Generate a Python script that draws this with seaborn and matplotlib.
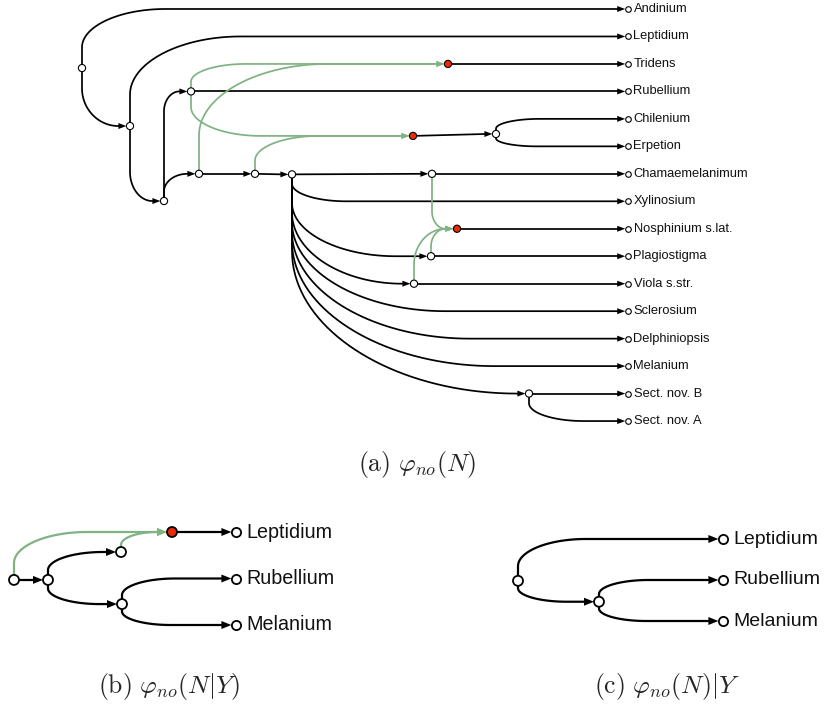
import numpy as np
import matplotlib
matplotlib.use("Agg")
import matplotlib.pyplot as plt
import seaborn as sns
import pandas as pd

sns.set_theme(style="white")
plt.rcParams['font.family'] = ['Liberation Sans', 'DejaVu Sans']
plt.rcParams['mathtext.fontset'] = 'cm'

BLACK = "#000000"
GREEN = "#80b283"
RED = "#f0280a"

# ---------------- panel (a) ----------------
leaves_a = ["Andinium", "Leptidium", "Tridens", "Rubellium", "Chilenium", "Erpetion",
            "Chamaemelanimum", "Xylinosium", "Nosphinium s.lat.", "Plagiostigma",
            "Viola s.str.", "Sclerosium", "Delphiniopsis", "Melanium",
            "Sect. nov. B", "Sect. nov. A"]
leaf_rows_a = list(range(16))
leaf_x_a = 628
inner_a = ["root", "n2", "n3", "n4", "n5", "n6", "n7", "n8", "hT", "hC", "sCE", "hN", "nP", "nV", "sS"]
inner_x_a = [82, 130, 164, 191, 199, 255, 292, 432, 448, 413, 496, 457, 431, 414, 529]
inner_row_a = [2.15, 4.26, 6.99, 3.0, 6.0, 6.0, 6.02, 6.0, 2.0, 4.62, 4.55, 8.0, 9.0, 10.0, 14.0]
hybrid_a = ["hT", "hC", "hN"]
tree_edges_a = [("root", "Andinium"), ("root", "n2"), ("n2", "Leptidium"), ("n2", "n3"),
                ("n3", "n4"), ("n3", "n5"), ("n4", "Rubellium"), ("hT", "Tridens"),
                ("hC", "sCE"), ("sCE", "Chilenium"), ("sCE", "Erpetion"), ("n5", "n6"),
                ("n6", "n7"), ("n7", "n8"), ("n8", "Chamaemelanimum"), ("n7", "Xylinosium"),
                ("hN", "Nosphinium s.lat."), ("n7", "nP"), ("nP", "Plagiostigma"),
                ("n7", "nV"), ("nV", "Viola s.str."), ("n7", "Sclerosium"),
                ("n7", "Delphiniopsis"), ("n7", "Melanium"), ("n7", "sS"),
                ("sS", "Sect. nov. B"), ("sS", "Sect. nov. A")]
ret_edges_a = [("n4", "hT"), ("n5", "hT"), ("n4", "hC"), ("n6", "hC"),
               ("n8", "hN"), ("nP", "hN"), ("nV", "hN")]

# ---------------- panel (b) ----------------
leaves_b = ["Leptidium", "Rubellium", "Melanium"]
leaf_rows_b = [0, 1, 2]
leaf_x_b = 236
inner_b = ["rb", "nb2", "nb3", "hb", "nb4"]
inner_x_b = [14, 48, 121, 172, 122]
inner_row_b = [1.03, 1.03, 0.43, 0.0, 1.55]
hybrid_b = ["hb"]
tree_edges_b = [("rb", "nb2"), ("nb2", "nb3"), ("nb2", "nb4"), ("hb", "Leptidium"),
                ("nb4", "Rubellium"), ("nb4", "Melanium")]
ret_edges_b = [("rb", "hb"), ("nb3", "hb")]

# ---------------- panel (c) ----------------
leaves_c = ["Leptidium", "Rubellium", "Melanium"]
leaf_rows_c = [0, 1, 2]
leaf_x_c = 723
inner_c = ["rc", "nc2"]
inner_x_c = [518, 599]
inner_row_c = [1.02, 1.53]
hybrid_c = []
tree_edges_c = [("rc", "Leptidium"), ("rc", "nc2"), ("nc2", "Rubellium"), ("nc2", "Melanium")]
ret_edges_c = []

captions = [r"$\mathrm{(a)}\ \varphi_{no}(N)$", r"$\mathrm{(b)}\ \varphi_{no}(N|Y)$",
            r"$\mathrm{(c)}\ \varphi_{no}(N)|Y$"]

W, H = 832, 706
fig = plt.figure(figsize=(W / 100, H / 100), dpi=100)
fig.patch.set_facecolor("white")


def make_ax(row0_px, row_px):
    ax = fig.add_axes([0, 0, 1, 1])
    ax.set_xlim(0, W)
    ax.set_ylim((H - row0_px) / row_px, -row0_px / row_px)
    ax.axis("off")
    ax.patch.set_alpha(0)
    return ax


def bez(p0, p1, p2, p3, n=40):
    t = np.linspace(0, 1, n)[:, None]
    return ((1 - t) ** 3) * p0 + 3 * ((1 - t) ** 2) * t * p1 + 3 * (1 - t) * t ** 2 * p2 + t ** 3 * p3


def draw_edge(ax, pa, pb, color, lw, r1, alen, aw, z):
    T = ax.transData
    (x0, y0), (x1, y1) = T.transform([pa, pb])
    tip = x1 - r1
    base = tip - alen
    dy = y1 - y0
    if abs(dy) < 3:
        pts = np.array([[x0, y0], [base + 1.5, y1]])
    else:
        s = np.sign(dy)
        a = abs(dy)
        L = min(base - x0, 30 + 0.9 * a)
        V = min(0.65 * a, 1.3 * L)
        k = 0.55
        P0 = np.array([x0, y1 - s * V])
        P1 = np.array([x0, y1 - s * V * (1 - k)])
        P2 = np.array([x0 + L * (1 - k), y1])
        P3 = np.array([x0 + L, y1])
        curve = bez(P0, P1, P2, P3)
        pts = np.vstack([[x0, y0], curve, [base + 1.5, y1]])
    inv = T.inverted()
    d = inv.transform(pts)
    ax.plot(d[:, 0], d[:, 1], color=color, lw=lw, solid_capstyle="butt",
            solid_joinstyle="round", zorder=z)
    tri = inv.transform([[tip, y1], [base, y1 + aw / 2], [base, y1 - aw / 2]])
    ax.fill(tri[:, 0], tri[:, 1], color=color, lw=0, zorder=z + 0.5)


def draw_panel(ax, leaves, leaf_rows, leaf_x, inner, inner_x, inner_row, hybrid,
               tree_edges, ret_edges, lw, r_in, r_leaf, alen, aw, mlw, fsize, label_dx):
    pos = {n: (x, r) for n, x, r in zip(inner, inner_x, inner_row)}
    for n, r in zip(leaves, leaf_rows):
        pos[n] = (leaf_x, r)
    leafset = set(leaves)
    for u, v in tree_edges:
        rr = r_leaf if v in leafset else r_in
        draw_edge(ax, pos[u], pos[v], BLACK, lw, rr, alen, aw, 2)
    for u, v in ret_edges:
        draw_edge(ax, pos[u], pos[v], GREEN, lw, r_in, alen, aw, 3)
    df = pd.DataFrame({"x": inner_x, "y": inner_row,
                       "kind": ["hybrid" if n in hybrid else "tree" for n in inner]})
    pal = {"tree": "white", "hybrid": RED}
    sns.scatterplot(data=df, x="x", y="y", hue="kind", palette=pal, ax=ax,
                    s=(2 * r_in * 0.72) ** 2, edgecolor=BLACK, linewidth=mlw,
                    legend=False, zorder=6)
    dl = pd.DataFrame({"x": [leaf_x] * len(leaves), "y": leaf_rows})
    sns.scatterplot(data=dl, x="x", y="y", color="white", ax=ax,
                    s=(2 * r_leaf * 0.72) ** 2, edgecolor=BLACK, linewidth=mlw,
                    legend=False, zorder=6)
    for n, r in zip(leaves, leaf_rows):
        ax.text(leaf_x + label_dx, r, n, fontsize=fsize, va="center", ha="left",
                color="#111111", zorder=7)
    ax.set_xlim(0, W)
    ax.axis("off")


ax_a = make_ax(9, 27.47)
draw_panel(ax_a, leaves_a, leaf_rows_a, leaf_x_a, inner_a, inner_x_a, inner_row_a, hybrid_a,
           tree_edges_a, ret_edges_a, lw=1.25, r_in=3.6, r_leaf=2.8, alen=8, aw=6,
           mlw=0.8, fsize=9.3, label_dx=5.5)
ax_a.set_ylim((H - 9) / 27.47, -9 / 27.47)

ax_b = make_ax(532, 46.5)
draw_panel(ax_b, leaves_b, leaf_rows_b, leaf_x_b, inner_b, inner_x_b, inner_row_b, hybrid_b,
           tree_edges_b, ret_edges_b, lw=1.6, r_in=5.0, r_leaf=4.6, alen=10, aw=8,
           mlw=1.3, fsize=14.2, label_dx=10)
ax_b.set_ylim((H - 532) / 46.5, -532 / 46.5)

ax_c = make_ax(539, 41)
draw_panel(ax_c, leaves_c, leaf_rows_c, leaf_x_c, inner_c, inner_x_c, inner_row_c, hybrid_c,
           tree_edges_c, ret_edges_c, lw=1.6, r_in=5.0, r_leaf=4.6, alen=10, aw=8,
           mlw=1.3, fsize=14.0, label_dx=10)
ax_c.set_ylim((H - 539) / 41, -539 / 41)

fig.text(417 / W, 1 - 465 / H, captions[0], ha="center", va="center", fontsize=18.5)
fig.text(169 / W, 1 - 686 / H, captions[1], ha="center", va="center", fontsize=18.5)
fig.text(667 / W, 1 - 686 / H, captions[2], ha="center", va="center", fontsize=18.5)

fig.savefig("out.png", dpi=100, facecolor="white")
